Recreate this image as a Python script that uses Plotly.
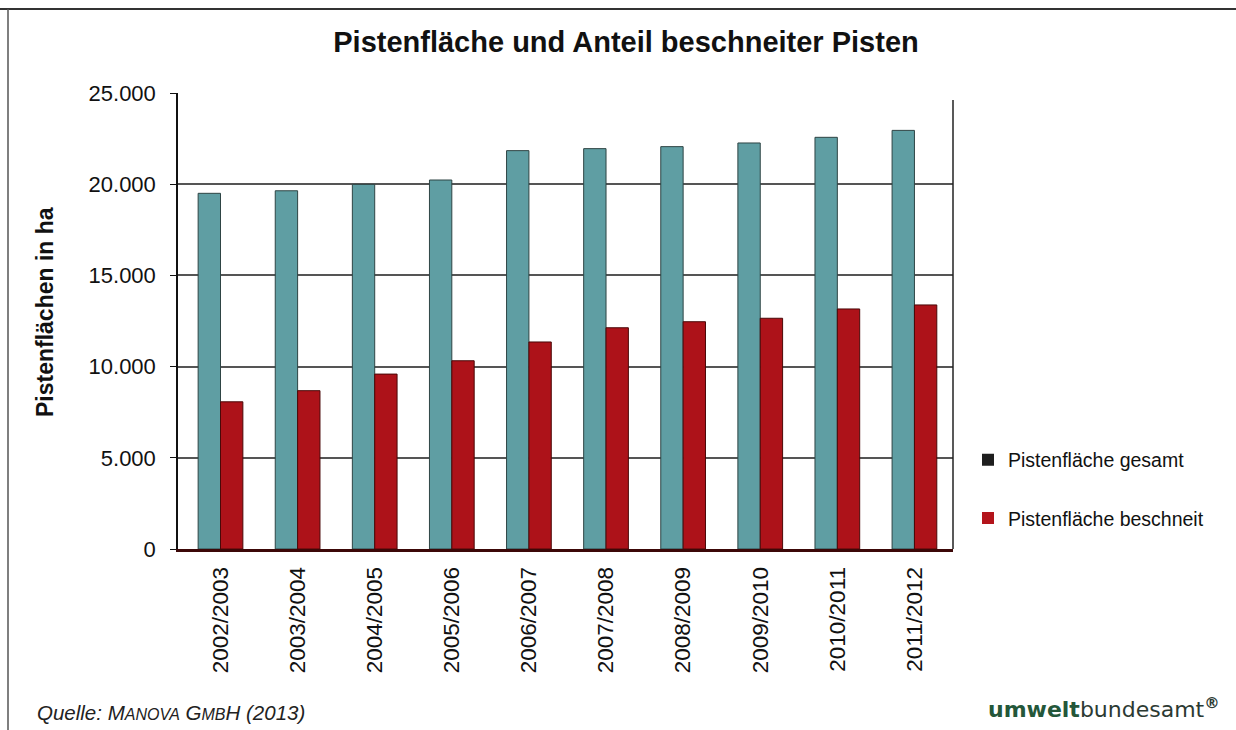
import plotly.graph_objects as go

# ---- data ----
seasons = ["2002/2003", "2003/2004", "2004/2005", "2005/2006", "2006/2007",
           "2007/2008", "2008/2009", "2009/2010", "2010/2011", "2011/2012"]
gesamt = [19500, 19640, 19990, 20230, 21840, 21950, 22060, 22260, 22570, 22950]
beschneit = [8070, 8680, 9590, 10320, 11350, 12130, 12460, 12650, 13160, 13380]
y_ticks = [0, 5000, 10000, 15000, 20000, 25000]
grid_vals = [5000, 10000, 15000, 20000]
series_names = ["Pistenfläche gesamt", "Pistenfläche beschneit"]

W, H = 1236, 730
L, R, T, B = 178, 283, 93, 181
pw, ph = W - L - R, H - T - B


def px(x):
    return (x - L) / pw


def py(y):
    return (H - B - y) / ph


FONT = "Liberation Sans, Arial, sans-serif"
TEAL = "#5f9ea3"
RED = "#ad1219"

fig = go.Figure()
fig.add_trace(go.Bar(x=seasons, y=gesamt, name=series_names[0], showlegend=False,
                     marker=dict(color=TEAL, line=dict(color="#2e4444", width=1))))
fig.add_trace(go.Bar(x=seasons, y=beschneit, name=series_names[1], showlegend=False,
                     marker=dict(color=RED, line=dict(color="#4a0808", width=1))))
# legend entries (the scan shows a dark key for the first series)
fig.add_trace(go.Scatter(x=[None], y=[None], mode="markers", name=series_names[0],
                         legendgroup="a",
                         marker=dict(symbol="square", size=10, color="#1e1e1e")))
fig.add_trace(go.Scatter(x=[None], y=[None], mode="markers", name=series_names[1],
                         legendgroup="b",
                         marker=dict(symbol="square", size=10, color="#b3141b")))

fig.update_layout(
    width=W, height=H,
    margin=dict(l=L, r=R, t=T, b=B, autoexpand=False),
    paper_bgcolor="white", plot_bgcolor="white",
    separators=",.",
    barmode="group", bargap=0.42, bargroupgap=0,
    font=dict(family=FONT, size=20, color="#111"),
    title=dict(text="<b>Pistenfläche und Anteil beschneiter Pisten</b>",
               x=626 / W, xref="container", xanchor="center",
               y=1 - 42 / H, yref="container", yanchor="middle",
               font=dict(family=FONT, size=29, color="#111")),
    xaxis=dict(type="category", tickangle=-90, showgrid=False,
               showline=True, linecolor="#3c0808", linewidth=3,
               ticks="", tickfont=dict(size=22.5, color="#111"), ticklabelstandoff=6),
    yaxis=dict(range=[0, 25000], tickvals=y_ticks, tickformat=",d",
               showgrid=False, zeroline=False,
               showline=True, linecolor="#111", linewidth=1.5,
               ticks="outside", ticklen=6, tickcolor="#111",
               ticklabelstandoff=10,
               tickfont=dict(size=22, color="#111")),
    yaxis2=dict(range=[0, 25000], overlaying="y", anchor="x", side="left",
                tickvals=grid_vals, showticklabels=False, ticks="",
                showgrid=True, gridcolor="#555", gridwidth=1.5,
                zeroline=False, showline=False),
    legend=dict(x=px(968), y=py(489), xanchor="left", yanchor="middle",
                font=dict(size=19.5, color="#111"), tracegroupgap=30,
                itemsizing="constant", bgcolor="rgba(0,0,0,0)"),
    showlegend=True,
)
# invisible trace to bind yaxis2 so its grid is drawn
fig.add_trace(go.Scatter(x=[seasons[0]], y=[None], yaxis="y2", showlegend=False,
                         hoverinfo="skip"))

fig.add_annotation(text="<b>Pistenflächen in ha</b>", textangle=-90,
                   xref="paper", yref="paper", x=px(45), y=py(312),
                   xanchor="center", yanchor="middle", showarrow=False,
                   font=dict(family=FONT, size=23, color="#111"))
fig.add_annotation(
    text="<i>Quelle: M<span style='font-size:16px'>ANOVA</span> G<span style='font-size:16px'>MB</span>H (2013)</i>",
    xref="paper", yref="paper", x=px(35), y=py(712), xanchor="left", yanchor="middle",
    showarrow=False, font=dict(family=FONT, size=20.5, color="#222"))
fig.add_annotation(
    text="<b><span style='color:#24573a'>umwelt</span></b><span style='color:#2c3a33'>bundesamt</span><sup><b>®</b></sup>",
    xref="paper", yref="paper", x=px(1222), y=py(708), xanchor="right", yanchor="middle",
    showarrow=False, font=dict(family="DejaVu Sans, sans-serif", size=22, color="#2c3a33"))

# scanned page frame and plot border
fig.add_shape(type="line", xref="paper", yref="paper", x0=px(0), x1=px(W), y0=py(9), y1=py(9),
              line=dict(color="#333", width=2))
fig.add_shape(type="line", xref="paper", yref="paper", x0=px(8), x1=px(8), y0=py(9), y1=py(H),
              line=dict(color="#555", width=1.5))
fig.add_shape(type="line", xref="paper", yref="paper", x0=1, x1=1, y0=0, y1=py(100),
              line=dict(color="#222", width=1.5))

fig.write_html("out.html", config={"displayModeBar": False},
               post_script="document.body.style.margin='0';")
